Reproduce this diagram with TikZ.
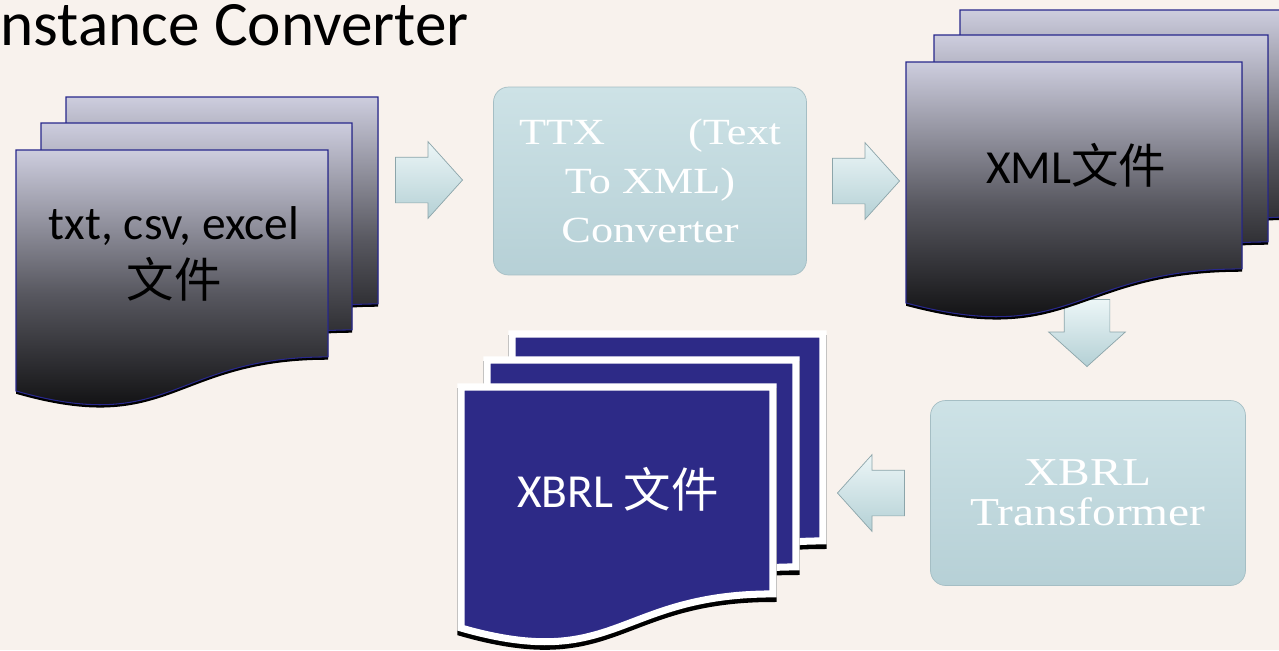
\documentclass[tikz,border=0pt]{standalone}
\usepackage{fontspec}
\setmainfont{Carlito}
\newfontfamily\cjk{Noto Sans CJK SC}
\newfontfamily\boxfont[FakeStretch=1.2]{Liberation Serif}
\usepackage{xcolor}
\usetikzlibrary{shapes.arrows,positioning,calc}
\definecolor{bgcol}{RGB}{248,242,237}
\definecolor{pagetop}{RGB}{205,205,222}
\definecolor{pagemid}{RGB}{88,88,96}
\definecolor{pageedge}{RGB}{40,40,140}
\definecolor{navy}{RGB}{45,42,135}
\definecolor{boxtop}{RGB}{205,226,230}
\definecolor{boxbot}{RGB}{182,208,214}
\definecolor{boxedge}{RGB}{165,190,196}
\definecolor{arrowtop}{RGB}{236,246,247}
\definecolor{arrowbot}{RGB}{180,208,213}
\definecolor{arrowedge}{RGB}{140,165,170}

\tikzset{
  gradpage/.style={draw=pageedge, line width=0.6pt, top color=pagetop, bottom color=black, middle color=pagemid},
  navypage/.style={draw=white, line width=4pt, fill=navy},
  docshadow/.style={fill=black, yshift=-1.6pt},
  navyshadow/.style={fill=black, draw=black, line width=4pt, yshift=-2.6pt},
  procbox/.style={rounded corners=0.3cm, minimum width=6.26cm, minimum height=3.76cm,
    top color=boxtop, bottom color=boxbot, draw=boxedge, text=white, align=center, inner sep=0pt},
  blockarrow/.style={single arrow, draw=arrowedge, thin, top color=arrowtop, bottom color=arrowbot,
    minimum height=1.34cm, inner xsep=0pt, inner ysep=0.45cm, anchor=tip,
    single arrow head extend=0.31cm, single arrow tip angle=96},
  doctext/.style={font=\fontsize{27}{33}\selectfont, align=center, inner sep=0pt}
}

% #1 x, #2 y (top left), #3 width, #4 page style, #5 shadow style
\newcommand{\docpage}[5]{%
  \path[#5] (#1,#2) -- ++(#3,0) -- ++(0,{0.802*258})
    .. controls +({-0.5*#3},0) and +({0.5*#3},{0.1735*258}) .. ({#1},{#2+0.934*258}) -- cycle;
  \path[#4] (#1,#2) -- ++(#3,0) -- ++(0,{0.802*258})
    .. controls +({-0.5*#3},0) and +({0.5*#3},{0.1735*258}) .. ({#1},{#2+0.934*258}) -- cycle;
}

\begin{document}
\begin{tikzpicture}[x=0.02cm, y=-0.02cm]
  \fill[bgcol] (0,0) rectangle (1279,650);
  \useasboundingbox (0,0) rectangle (1279,650);
  \clip (0,0) rectangle (1279,650);

  \node[anchor=base west, inner sep=0pt, font=\fontsize{36}{42}\selectfont] (title) at (0,45) {nstance Converter};

  \node[blockarrow, rotate=-90] (a3) at (1087,367) {};

  \docpage{66}{97}{312}{gradpage}{docshadow}
  \docpage{41}{123}{311}{gradpage}{docshadow}
  \docpage{16}{150}{312}{gradpage}{docshadow}
  \node[doctext] (src) at (174,254) {txt, csv, excel\\{\cjk 文件}};

  \node[blockarrow] (a1) at (463,180) {};

  \node[procbox, font=\boxfont\fontsize{21}{28}\selectfont] (ttx) at (650,181)
    {\hbox to 5.24cm{TTX\hfill(Text}\\To XML)\\Converter};

  \node[blockarrow] (a2) at (900,181) {};

  \docpage{960}{10}{336}{gradpage}{docshadow}
  \docpage{934}{35}{334}{gradpage}{docshadow}
  \docpage{906}{62}{336}{gradpage}{docshadow}
  \node[doctext, anchor=base] (xml) at (1076,183) {XML{\cjk 文件}};

  \node[procbox, minimum width=6.3cm, minimum height=3.7cm,
    font=\boxfont\fontsize{22.5}{23}\selectfont] (xbrlt) at (1088,493) {XBRL\\Transformer};

  \node[blockarrow, rotate=180] (a4) at (837,493) {};

  \docpage{512}{334}{311}{navypage}{navyshadow}
  \docpage{487}{360}{309}{navypage}{navyshadow}
  \docpage{461}{387}{312}{navypage}{navyshadow}
  \node[doctext, anchor=base, text=white] (xbrl) at (618,507) {XBRL {\cjk 文件}};
\end{tikzpicture}
\end{document}
